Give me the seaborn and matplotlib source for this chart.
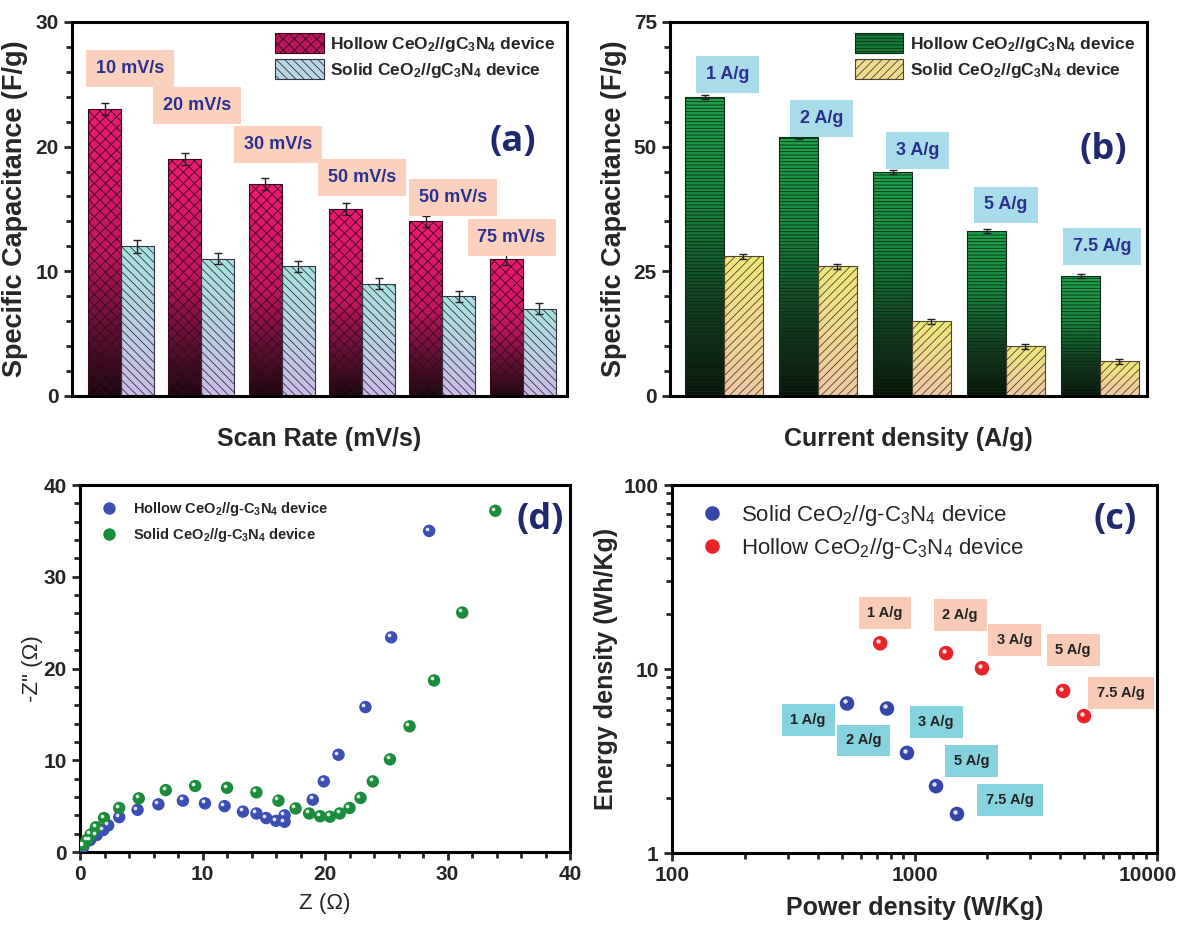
import numpy as np
import pandas as pd
import matplotlib
matplotlib.use("Agg")
import matplotlib.pyplot as plt
import matplotlib.transforms as mtransforms
from matplotlib.colors import LinearSegmentedColormap
from matplotlib.patches import Patch
from matplotlib.ticker import MultipleLocator, LogLocator, NullFormatter, FixedLocator, FixedFormatter
import seaborn as sns

# ---------------- data ----------------
# (a) scan-rate capacitance
scan_labels = ["10 mV/s", "20 mV/s", "30 mV/s", "50 mV/s", "50 mV/s", "75 mV/s"]
a_hollow = [23.0, 19.0, 17.0, 15.0, 14.0, 11.0]
a_hollow_err = [0.5, 0.45, 0.5, 0.45, 0.45, 0.5]
a_solid = [12.0, 11.0, 10.4, 9.0, 8.0, 7.0]
a_solid_err = [0.5, 0.45, 0.45, 0.45, 0.45, 0.45]

# (b) current-density capacitance
current_labels = ["1 A/g", "2 A/g", "3 A/g", "5 A/g", "7.5 A/g"]
b_hollow = [60.0, 52.0, 45.0, 33.0, 24.0]
b_hollow_err = [0.4, 0.4, 0.4, 0.4, 0.4]
b_solid = [28.0, 26.0, 15.0, 10.0, 7.0]
b_solid_err = [0.5, 0.5, 0.5, 0.5, 0.5]

# (d) Nyquist
d_hollow_zre = [0.27, 0.82, 1.36, 1.9, 2.3, 3.2, 4.7, 6.4, 8.4, 10.2, 11.8, 13.3, 14.4, 15.2,
                16.0, 16.7, 16.7, 19.0, 19.9, 21.1, 23.3, 25.4, 28.5]
d_hollow_zim = [0.58, 1.3, 1.85, 2.4, 2.9, 3.8, 4.6, 5.2, 5.6, 5.3, 5.0, 4.4, 4.2, 3.7,
                3.4, 3.3, 4.0, 5.7, 7.7, 10.6, 15.8, 23.4, 35.0]
d_solid_zre = [0.27, 0.55, 0.87, 1.3, 1.96, 3.2, 4.8, 7.0, 9.4, 12.0, 14.4, 16.2, 17.6, 18.7,
               19.6, 20.4, 21.2, 22.0, 22.9, 23.9, 25.3, 26.9, 28.9, 31.2, 33.9]
d_solid_zim = [0.76, 1.3, 1.9, 2.7, 3.7, 4.8, 5.85, 6.75, 7.2, 7.0, 6.5, 5.6, 4.75, 4.2,
               3.9, 3.85, 4.2, 4.8, 5.9, 7.7, 10.1, 13.7, 18.7, 26.1, 37.2]

# (c) Ragone
c_rates = ["1 A/g", "2 A/g", "3 A/g", "5 A/g", "7.5 A/g"]
c_solid_power = [527, 770, 931, 1227, 1497]
c_solid_energy = [6.5, 6.1, 3.5, 2.31, 1.63]
c_hollow_power = [722, 1349, 1898, 4100, 5000]
c_hollow_energy = [13.8, 12.2, 10.1, 7.6, 5.55]

# ---------------- style ----------------
sns.set_style("ticks")
plt.rcParams["font.family"] = ["Liberation Sans", "DejaVu Sans"]
plt.rcParams["mathtext.default"] = "regular"
plt.rcParams["hatch.linewidth"] = 0.6
plt.rcParams["axes.linewidth"] = 2.2

NAVY = "#2b3190"
LBL_NAVY = "#1f2a6e"

fig = plt.figure(figsize=(11.8, 9.26), dpi=100)
ax_a = fig.add_axes([0.061, 0.5724, 0.4195, 0.4039])
ax_b = fig.add_axes([0.5678, 0.5724, 0.4042, 0.4039])
ax_d = fig.add_axes([0.0678, 0.0799, 0.4153, 0.3963])
ax_c = fig.add_axes([0.5695, 0.0788, 0.4110, 0.3974])


def style_axes(ax):
    for s in ax.spines.values():
        s.set_linewidth(2.2)
        s.set_color("black")
    ax.tick_params(which="major", direction="out", length=6, width=2,
                   labelsize=15)
    ax.tick_params(which="minor", direction="out", length=4, width=2)
    for lab in ax.get_xticklabels() + ax.get_yticklabels():
        lab.set_fontweight("bold")


def gradient_bars(ax, container, hatch, hcolor, stops):
    cmap = LinearSegmentedColormap.from_list("g", stops)
    grad = np.linspace(0, 1, 256).reshape(-1, 1)
    for p in container.patches:
        x0, y0 = p.get_x(), p.get_y()
        w, h = p.get_width(), p.get_height()
        im = ax.imshow(grad, cmap=cmap, aspect="auto", origin="lower",
                       extent=[x0, x0 + w, y0, y0 + h], zorder=1,
                       interpolation="bilinear")
        im.set_clip_path(p)
        p.set_facecolor("none")
        p.set_hatch(hatch)
        p.set_edgecolor(hcolor)
        p.set_linewidth(0.8)
        p.set_zorder(2)


def bar_panel(ax, labels, hollow, hollow_err, solid, solid_err):
    n = len(labels)
    df = pd.DataFrame({
        "cat": list(range(n)) * 2,
        "value": list(hollow) + list(solid),
        "device": ["Hollow"] * n + ["Solid"] * n,
    })
    sns.barplot(data=df, x="cat", y="value", hue="device", ax=ax,
                errorbar=None, width=0.82, gap=0, legend=False,
                palette=["#cc1166", "#aadddd"])
    for cont, errs in zip(ax.containers, [hollow_err, solid_err]):
        xs = [p.get_x() + p.get_width() / 2 for p in cont.patches]
        ys = [p.get_height() for p in cont.patches]
        ax.errorbar(xs, ys, yerr=errs, fmt="none", ecolor="#222222",
                    elinewidth=1.0, capsize=3, capthick=1.0, zorder=4)
    return ax.containers


# ---------------- (a) ----------------
cont_a = bar_panel(ax_a, scan_labels, a_hollow, a_hollow_err, a_solid, a_solid_err)
gradient_bars(ax_a, cont_a[0], "xxx", "#3a0a20",
              [(0.0, "#1a0810"), (0.22, "#5a1030"), (0.5, "#c0155e"), (1.0, "#ee1a72")])
gradient_bars(ax_a, cont_a[1], "\\\\\\\\", "#333344",
              [(0.0, "#cdbbe6"), (0.5, "#b9d2e2"), (1.0, "#a8e2e0")])
ax_a.set_xlim(-0.61, 5.55)
ax_a.set_ylim(0, 30)
ax_a.set_xticks([])
ax_a.yaxis.set_major_locator(MultipleLocator(10))
ax_a.yaxis.set_minor_locator(MultipleLocator(2))
ax_a.set_ylabel("Specific Capacitance (F/g)", fontsize=19.5, fontweight="bold", labelpad=5)
ax_a.set_xlabel("Scan Rate (mV/s)", fontsize=18, fontweight="bold", labelpad=22)
style_axes(ax_a)
a_lab_x = [0.11, 0.95, 1.95, 3.0, 4.13, 4.86]
a_lab_y = [26.3, 23.3, 20.2, 17.5, 15.9, 12.7]
for x, y, t in zip(a_lab_x, a_lab_y, scan_labels):
    ax_a.text(x, y, t, ha="center", va="center", fontsize=13, fontweight="bold",
              color=NAVY, zorder=5,
              bbox=dict(boxstyle="square,pad=0.55", fc="#fbd0bc", ec="none"))
ax_a.text(0.89, 0.68, "(a)", transform=ax_a.transAxes, ha="center", va="center",
          fontsize=26, fontweight="bold", color=LBL_NAVY, family="Open Sans")
leg_a = [Patch(facecolor="#b8155a", edgecolor="#3a0a20", hatch="xxx", lw=0.8,
               label="Hollow CeO$_2$//gC$_3$N$_4$ device"),
         Patch(facecolor="#b8d6e4", edgecolor="#333344", hatch="\\\\\\\\", lw=0.8,
               label="Solid CeO$_2$//gC$_3$N$_4$ device")]
ax_a.legend(handles=leg_a, loc="upper right", bbox_to_anchor=(1.0, 1.0),
            frameon=False, prop={"weight": "bold", "size": 12.5},
            handlelength=2.8, handleheight=1.4, handletextpad=0.4,
            borderaxespad=0.25, labelspacing=0.3)

# ---------------- (b) ----------------
cont_b = bar_panel(ax_b, current_labels, b_hollow, b_hollow_err, b_solid, b_solid_err)
gradient_bars(ax_b, cont_b[0], "-----", "#0d2a14",
              [(0.0, "#0a140c"), (0.3, "#123e20"), (0.65, "#188a40"), (1.0, "#1fa34c")])
gradient_bars(ax_b, cont_b[1], "////", "#4a4430",
              [(0.0, "#f2c8a6"), (0.5, "#f1d890"), (1.0, "#efe878")])
ax_b.set_xlim(-0.574, 4.5)
ax_b.set_ylim(0, 75)
ax_b.set_xticks([])
ax_b.yaxis.set_major_locator(MultipleLocator(25))
ax_b.yaxis.set_minor_locator(MultipleLocator(5))
ax_b.set_ylabel("Specific Capacitance (F/g)", fontsize=19.5, fontweight="bold", labelpad=5)
ax_b.set_xlabel("Current density (A/g)", fontsize=18, fontweight="bold", labelpad=22)
style_axes(ax_b)
b_lab_x = [0.04, 1.04, 2.06, 3.0, 4.02]
b_lab_y = [64.4, 55.7, 49.3, 38.3, 29.9]
for x, y, t in zip(b_lab_x, b_lab_y, current_labels):
    ax_b.text(x, y, t, ha="center", va="center", fontsize=13, fontweight="bold",
              color=NAVY, zorder=5,
              bbox=dict(boxstyle="square,pad=0.55", fc="#a9dcea", ec="none"))
ax_b.text(0.908, 0.658, "(b)", transform=ax_b.transAxes, ha="center", va="center",
          fontsize=26, fontweight="bold", color=LBL_NAVY, family="Open Sans")
leg_b = [Patch(facecolor="#157a38", edgecolor="#0d2a14", hatch="-----", lw=0.8,
               label="Hollow CeO$_2$//gC$_3$N$_4$ device"),
         Patch(facecolor="#f0da90", edgecolor="#4a4430", hatch="////", lw=0.8,
               label="Solid CeO$_2$//gC$_3$N$_4$ device")]
ax_b.legend(handles=leg_b, loc="upper right", bbox_to_anchor=(1.0, 1.0),
            frameon=False, prop={"weight": "bold", "size": 12.5},
            handlelength=2.8, handleheight=1.4, handletextpad=0.4,
            borderaxespad=0.25, labelspacing=0.3)


def spheres(ax, x, y, s):
    off = mtransforms.ScaledTranslation(-1.6 / 72, 1.6 / 72, fig.dpi_scale_trans)
    ax.scatter(x, y, s=s * 0.09, color="white", alpha=0.85, linewidths=0,
               transform=ax.transData + off, zorder=4)


# ---------------- (d) ----------------
df_d = pd.DataFrame({
    "zre": d_hollow_zre + d_solid_zre,
    "zim": d_hollow_zim + d_solid_zim,
    "device": ["Hollow CeO$_2$//g-C$_3$N$_4$ device"] * len(d_hollow_zre)
              + ["Solid CeO$_2$//g-C$_3$N$_4$ device"] * len(d_solid_zre),
})
sns.scatterplot(data=df_d, x="zre", y="zim", hue="device", ax=ax_d, s=80,
                palette=["#3b4fb4", "#1b8c3c"], edgecolor="none", zorder=3)
spheres(ax_d, df_d["zre"], df_d["zim"], 80)
ax_d.set_xlim(0, 40)
ax_d.set_ylim(0, 40)
ax_d.xaxis.set_major_locator(MultipleLocator(10))
ax_d.xaxis.set_minor_locator(MultipleLocator(2))
ax_d.yaxis.set_major_locator(MultipleLocator(10))
ax_d.yaxis.set_minor_locator(MultipleLocator(2))
ax_d.set_xlabel("Z (Ω)", fontsize=16, labelpad=6)
ax_d.set_ylabel('-Z" (Ω)', fontsize=16, labelpad=0)
style_axes(ax_d)
sns.move_legend(ax_d, "upper left", bbox_to_anchor=(0.0, 1.0), frameon=False,
                title=None, prop={"weight": "bold", "size": 10.5},
                markerscale=1.0, handletextpad=0.6, labelspacing=0.6,
                borderaxespad=0.6)
ax_d.text(0.94, 0.905, "(d)", transform=ax_d.transAxes, ha="center", va="center",
          fontsize=26, fontweight="bold", color=LBL_NAVY, family="Open Sans")

# ---------------- (c) ----------------
ax_c.set_xscale("log")
ax_c.set_yscale("log")
df_c = pd.DataFrame({
    "power": c_solid_power + c_hollow_power,
    "energy": c_solid_energy + c_hollow_energy,
    "device": ["Solid CeO$_2$//g-C$_3$N$_4$ device"] * len(c_solid_power)
              + ["Hollow CeO$_2$//g-C$_3$N$_4$ device"] * len(c_hollow_power),
})
sns.scatterplot(data=df_c, x="power", y="energy", hue="device", ax=ax_c, s=110,
                palette=["#3646a8", "#e8232a"], edgecolor="none", zorder=3)
spheres(ax_c, df_c["power"], df_c["energy"], 110)
ax_c.set_xlim(100, 10000)
ax_c.set_ylim(1, 100)
ax_c.xaxis.set_major_locator(FixedLocator([100, 1000, 10000]))
ax_c.xaxis.set_major_formatter(FixedFormatter(["100", "1000", "10000"]))
ax_c.xaxis.set_minor_locator(LogLocator(base=10, subs=np.arange(2, 10)))
ax_c.xaxis.set_minor_formatter(NullFormatter())
ax_c.yaxis.set_major_locator(FixedLocator([1, 10, 100]))
ax_c.yaxis.set_major_formatter(FixedFormatter(["1", "10", "100"]))
ax_c.yaxis.set_minor_locator(LogLocator(base=10, subs=np.arange(2, 10)))
ax_c.yaxis.set_minor_formatter(NullFormatter())
ax_c.set_xlabel("Power density (W/Kg)", fontsize=18, fontweight="bold", labelpad=8)
ax_c.set_ylabel("Energy density (Wh/Kg)", fontsize=18, fontweight="bold", labelpad=4)
style_axes(ax_c)
# keep the last x tick label inside the figure
fig.canvas.draw()
last = ax_c.get_xticklabels()[-1]
last.set_horizontalalignment("right")
last.set_transform(last.get_transform()
                   + mtransforms.ScaledTranslation(20 / 100, 0, fig.dpi_scale_trans))
sns.move_legend(ax_c, "upper left", bbox_to_anchor=(0.0, 1.0), frameon=False,
                title=None, prop={"size": 16}, markerscale=1.0,
                handletextpad=0.3, labelspacing=0.35, borderaxespad=0.4)
c_hollow_lab_x = [756, 1541, 2594, 4505, 7110]
c_hollow_lab_y = [20.2, 19.7, 14.4, 12.7, 7.4]
c_solid_lab_x = [364, 619, 1227, 1726, 2477]
c_solid_lab_y = [5.3, 4.1, 5.15, 3.16, 1.94]
for x, y, t in zip(c_hollow_lab_x, c_hollow_lab_y, c_rates):
    ax_c.text(x, y, t, ha="center", va="center", fontsize=10.5, fontweight="bold",
              color="#222222", zorder=5,
              bbox=dict(boxstyle="square,pad=0.6", fc="#f9cbb6", ec="none"))
for x, y, t in zip(c_solid_lab_x, c_solid_lab_y, c_rates):
    ax_c.text(x, y, t, ha="center", va="center", fontsize=10.5, fontweight="bold",
              color="#222222", zorder=5,
              bbox=dict(boxstyle="square,pad=0.6", fc="#86d2de", ec="none"))
ax_c.text(0.913, 0.905, "(c)", transform=ax_c.transAxes, ha="center", va="center",
          fontsize=26, fontweight="bold", color=LBL_NAVY, family="Open Sans")

fig.savefig("out.png", dpi=100)
